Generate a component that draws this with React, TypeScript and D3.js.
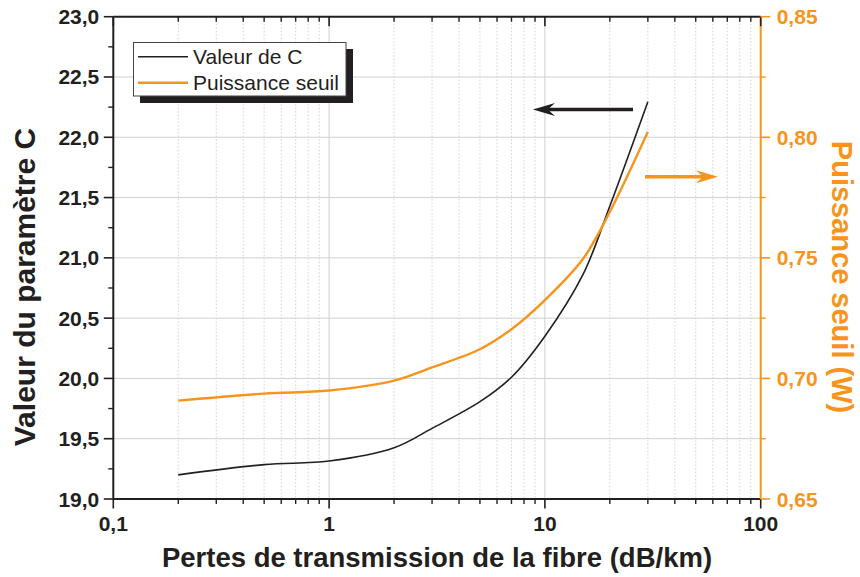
import React, { useRef, useEffect } from "react";
import * as d3 from "d3";

// Pertes de transmission (dB/km)
const losses = [0.2, 0.5, 1, 2, 3, 5, 7, 10, 15, 20, 30];
// Valeur du paramètre C (axe gauche)
const valeurC = [19.2, 19.285, 19.315, 19.425, 19.586, 19.807, 20.01, 20.35, 20.86, 21.43, 22.295];
// Puissance seuil en W (axe droit)
const puissanceSeuil = [0.6908, 0.6937, 0.695, 0.6991, 0.7046, 0.7121, 0.7204, 0.7325, 0.7495, 0.7691, 0.8023];

const xTicks = [0.1, 1, 10, 100];
const xTickLabels = ["0,1", "1", "10", "100"];
const leftTicks = [19, 19.5, 20, 20.5, 21, 21.5, 22, 22.5, 23];
const rightTicks = [0.65, 0.7, 0.75, 0.8, 0.85];

// arrows pointing to the axes (data coords)
const arrowC = { from: 25.6, to: 8.8, y: 22.23 };
const arrowP = { from: 29.1, to: 63.4, y: 0.7836 };

const ORANGE = "#f7941d";
const INK = "#231f20";
const FONT = "'Liberation Sans', Arial, sans-serif";

export default function App() {
  const svgRef = useRef<SVGSVGElement>(null);

  useEffect(() => {
    if (!svgRef.current) return;
    const svg = d3.select(svgRef.current);
    svg.selectAll("*").remove();

    const width = 860;
    const height = 577;
    const left = 113.3, right = 760.7, top = 16.7, bottom = 499;

    svg.attr("width", width).attr("height", height);
    svg.append("rect").attr("width", width).attr("height", height).attr("fill", "#fff");

    const x = d3.scaleLog().domain([0.1, 100]).range([left, right]);
    const yL = d3.scaleLinear().domain([19, 23]).range([bottom, top]);
    const yR = d3.scaleLinear().domain([0.65, 0.85]).range([bottom, top]);

    const minorX: number[] = [];
    [0.1, 1, 10].forEach((d) => {
      for (let k = 2; k <= 9; k++) minorX.push(d * k);
    });

    // Grid
    const grid = svg.append("g");
    grid.selectAll(".vminor")
      .data(minorX)
      .enter()
      .append("line")
      .attr("x1", (d) => x(d)).attr("x2", (d) => x(d))
      .attr("y1", top).attr("y2", bottom)
      .attr("stroke", "#c8c8c8")
      .attr("stroke-width", 0.8)
      .attr("stroke-dasharray", "1.5,2");
    grid.selectAll(".vmajor")
      .data([1, 10])
      .enter()
      .append("line")
      .attr("x1", (d) => x(d)).attr("x2", (d) => x(d))
      .attr("y1", top).attr("y2", bottom)
      .attr("stroke", "#d0d0d0")
      .attr("stroke-width", 1);
    grid.selectAll(".hmajor")
      .data(leftTicks.slice(1, -1))
      .enter()
      .append("line")
      .attr("x1", left).attr("x2", right)
      .attr("y1", (d) => yL(d)).attr("y2", (d) => yL(d))
      .attr("stroke", "#d0d0d0")
      .attr("stroke-width", 1);

    // Curves
    const idx = losses.map((_, i) => i);
    const lineC = d3.line<number>()
      .x((i) => x(losses[i]))
      .y((i) => yL(valeurC[i]))
      .curve(d3.curveCatmullRom.alpha(0.5));
    const lineP = d3.line<number>()
      .x((i) => x(losses[i]))
      .y((i) => yR(puissanceSeuil[i]))
      .curve(d3.curveCatmullRom.alpha(0.5));

    svg.append("path").datum(idx).attr("d", lineC)
      .attr("fill", "none").attr("stroke", INK).attr("stroke-width", 1.6);
    svg.append("path").datum(idx).attr("d", lineP)
      .attr("fill", "none").attr("stroke", ORANGE).attr("stroke-width", 2.4);

    // Axes lines
    const axes = svg.append("g");
    axes.append("line").attr("x1", left).attr("x2", right).attr("y1", top).attr("y2", top)
      .attr("stroke", INK).attr("stroke-width", 2);
    axes.append("line").attr("x1", left).attr("x2", right).attr("y1", bottom).attr("y2", bottom)
      .attr("stroke", INK).attr("stroke-width", 2);
    axes.append("line").attr("x1", left).attr("x2", left).attr("y1", top).attr("y2", bottom)
      .attr("stroke", INK).attr("stroke-width", 2);
    axes.append("line").attr("x1", right).attr("x2", right).attr("y1", top).attr("y2", bottom)
      .attr("stroke", ORANGE).attr("stroke-width", 2);

    // x ticks: bottom outward, top inward
    xTicks.forEach((d) => {
      axes.append("line").attr("x1", x(d)).attr("x2", x(d)).attr("y1", bottom).attr("y2", bottom + 9.5)
        .attr("stroke", INK).attr("stroke-width", 1.6);
      axes.append("line").attr("x1", x(d)).attr("x2", x(d)).attr("y1", top).attr("y2", top + 9.5)
        .attr("stroke", INK).attr("stroke-width", 1.6);
    });
    minorX.forEach((d) => {
      axes.append("line").attr("x1", x(d)).attr("x2", x(d)).attr("y1", bottom).attr("y2", bottom + 5)
        .attr("stroke", INK).attr("stroke-width", 1.4);
      axes.append("line").attr("x1", x(d)).attr("x2", x(d)).attr("y1", top).attr("y2", top + 5)
        .attr("stroke", INK).attr("stroke-width", 1.4);
    });

    // left ticks
    leftTicks.forEach((d, i) => {
      axes.append("line").attr("x1", left - 9.5).attr("x2", left).attr("y1", yL(d)).attr("y2", yL(d))
        .attr("stroke", INK).attr("stroke-width", 1.6);
      if (i < leftTicks.length - 1) {
        const m = d + 0.25;
        axes.append("line").attr("x1", left - 5).attr("x2", left).attr("y1", yL(m)).attr("y2", yL(m))
          .attr("stroke", INK).attr("stroke-width", 1.4);
      }
    });
    // right ticks
    rightTicks.forEach((d, i) => {
      axes.append("line").attr("x1", right).attr("x2", right + 9.5).attr("y1", yR(d)).attr("y2", yR(d))
        .attr("stroke", ORANGE).attr("stroke-width", 1.6);
      if (i < rightTicks.length - 1) {
        const m = d + 0.025;
        axes.append("line").attr("x1", right).attr("x2", right + 5).attr("y1", yR(m)).attr("y2", yR(m))
          .attr("stroke", ORANGE).attr("stroke-width", 1.4);
      }
    });

    // Tick labels
    const fmt1 = (v: number) => d3.format(".1f")(v).replace(".", ",");
    const fmt2 = (v: number) => d3.format(".2f")(v).replace(".", ",");
    leftTicks.forEach((d) => {
      svg.append("text")
        .attr("x", left - 14).attr("y", yL(d) + 7.5)
        .attr("text-anchor", "end")
        .attr("font-family", FONT).attr("font-weight", "bold").attr("font-size", "21px")
        .attr("fill", INK)
        .text(fmt1(d));
    });
    rightTicks.forEach((d) => {
      svg.append("text")
        .attr("x", right + 16).attr("y", yR(d) + 7.5)
        .attr("text-anchor", "start")
        .attr("font-family", FONT).attr("font-weight", "bold").attr("font-size", "21px")
        .attr("fill", ORANGE)
        .text(fmt2(d));
    });
    xTicks.forEach((d, i) => {
      svg.append("text")
        .attr("x", x(d)).attr("y", bottom + 32)
        .attr("text-anchor", "middle")
        .attr("font-family", FONT).attr("font-weight", "bold").attr("font-size", "21px")
        .attr("fill", INK)
        .text(xTickLabels[i]);
    });

    // Axis titles
    svg.append("text")
      .attr("x", (left + right) / 2).attr("y", 567)
      .attr("text-anchor", "middle")
      .attr("font-family", FONT).attr("font-weight", "bold").attr("font-size", "27.5px")
      .attr("fill", INK)
      .text("Pertes de transmission de la fibre (dB/km)");
    svg.append("text")
      .attr("transform", `translate(35,287) rotate(-90)`)
      .attr("text-anchor", "middle")
      .attr("font-family", FONT).attr("font-weight", "bold").attr("font-size", "30px")
      .attr("fill", INK)
      .text("Valeur du paramètre C");
    svg.append("text")
      .attr("transform", `translate(832,277) rotate(90)`)
      .attr("text-anchor", "middle")
      .attr("font-family", FONT).attr("font-weight", "bold").attr("font-size", "29px")
      .attr("fill", ORANGE)
      .text("Puissance seuil (W)");

    // Arrows
    const arrow = (x1: number, x2: number, y: number, color: string) => {
      const dir = x2 > x1 ? 1 : -1;
      const headLen = 22, half = 6.5, notch = 15;
      svg.append("line")
        .attr("x1", x1).attr("x2", x2 - dir * notch)
        .attr("y1", y).attr("y2", y)
        .attr("stroke", color).attr("stroke-width", 3.4);
      const pts: [number, number][] = [
        [x2, y],
        [x2 - dir * headLen, y - half],
        [x2 - dir * notch, y],
        [x2 - dir * headLen, y + half],
      ];
      svg.append("path")
        .attr("d", "M" + pts.map((p) => p.join(",")).join("L") + "Z")
        .attr("fill", color);
    };
    arrow(x(arrowC.from), x(arrowC.to), yL(arrowC.y), INK);
    arrow(x(arrowP.from), x(arrowP.to), yR(arrowP.y), ORANGE);

    // Legend
    const lg = svg.append("g");
    lg.append("rect").attr("x", 140).attr("y", 49).attr("width", 213).attr("height", 54).attr("fill", INK);
    lg.append("rect").attr("x", 133.5).attr("y", 42.5).attr("width", 212.5).attr("height", 53.5)
      .attr("fill", "#fff").attr("stroke", "#444").attr("stroke-width", 1);
    const entries = [
      { name: "Valeur de C", color: INK, w: 1.6 },
      { name: "Puissance seuil", color: ORANGE, w: 2.4 },
    ];
    entries.forEach((e, i) => {
      const yy = 56.7 + i * 26;
      lg.append("line").attr("x1", 138).attr("x2", 188).attr("y1", yy).attr("y2", yy)
        .attr("stroke", e.color).attr("stroke-width", e.w);
      lg.append("text")
        .attr("x", 193).attr("y", yy + 7.5)
        .attr("font-family", FONT).attr("font-size", "21px")
        .attr("fill", INK)
        .text(e.name);
    });
  }, []);

  return (
    <div style={{ position: "fixed", left: 0, top: 0 }}>
      <svg ref={svgRef} style={{ display: "block" }} />
    </div>
  );
}
